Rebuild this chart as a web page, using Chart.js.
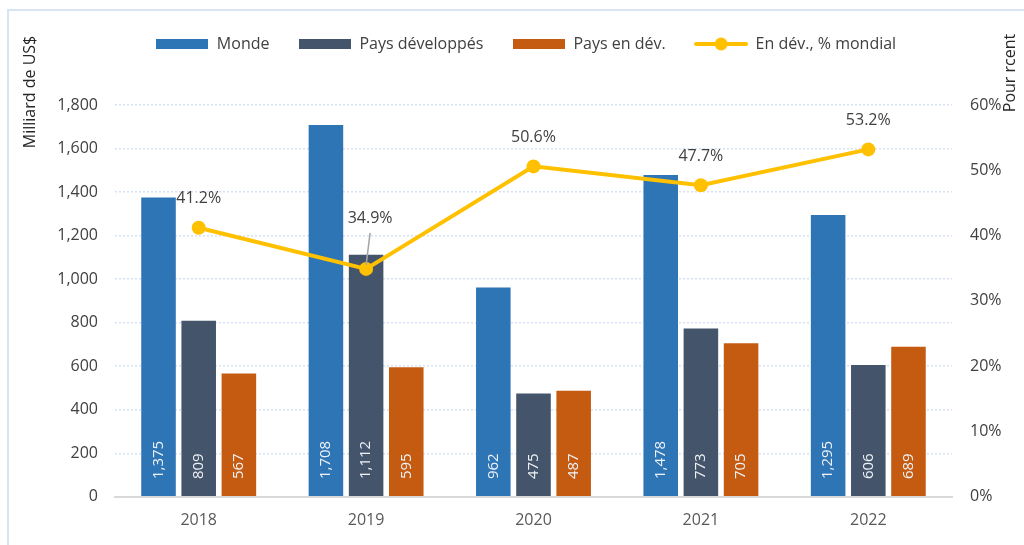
<!DOCTYPE html>
<html>
<head>
<meta charset="utf-8">
<script src="https://cdn.jsdelivr.net/npm/chart.js@4.4.0/dist/chart.umd.min.js"></script>
<style>
  html, body { margin: 0; padding: 0; background: #ffffff; }
  #wrap { width: 1024px; height: 545px; }
</style>
</head>
<body>
<div id="wrap"><canvas id="c" width="1024" height="545"></canvas></div>
<script>
// ---- data ----
const categories = ['2018', '2019', '2020', '2021', '2022'];
const monde = [1375, 1708, 962, 1478, 1295];
const developpes = [809, 1112, 475, 773, 606];
const enDev = [567, 595, 487, 705, 689];
const partMondiale = [41.2, 34.9, 50.6, 47.7, 53.2];
const leftTicks = [0, 1800, 200];   // min, max, step
const rightTicks = [0, 60, 10];     // min, max, step (percent)
const seriesNames = ['Monde', 'Pays développés', 'Pays en dév.', 'En dév., % mondial'];
const leftTitle = 'Milliard de US$';
const rightTitle = 'Pour rcent';

// ---- styles ----
const FONT = '"Open Sans", "Noto Sans", sans-serif';
const colors = ['#2E75B6', '#44546A', '#C55A11', '#FFC000'];

function boxIcon(color) {
  const c = document.createElement('canvas');
  c.width = 52; c.height = 10;
  const g = c.getContext('2d');
  g.fillStyle = color; g.fillRect(0, 0, 52, 10);
  return c;
}
function lineIcon(color) {
  const c = document.createElement('canvas');
  c.width = 54; c.height = 14;
  const g = c.getContext('2d');
  g.strokeStyle = color; g.lineWidth = 4; g.lineCap = 'round';
  g.beginPath(); g.moveTo(2, 7); g.lineTo(52, 7); g.stroke();
  g.fillStyle = color; g.beginPath(); g.arc(27, 7, 6.5, 0, Math.PI * 2); g.fill();
  return c;
}
const legendIcons = [boxIcon(colors[0]), boxIcon(colors[1]), boxIcon(colors[2]), lineIcon(colors[3])];

const fmt = v => v.toLocaleString('en-US');

const decorPlugin = {
  id: 'decor',
  beforeDraw(chart) {
    const ctx = chart.ctx;
    ctx.save();
    ctx.fillStyle = '#ffffff';
    ctx.fillRect(0, 0, chart.width, chart.height);
    ctx.strokeStyle = '#DAE3F3';
    ctx.lineWidth = 2;
    ctx.strokeRect(8, 10, chart.width + 20, chart.height + 20);
    ctx.restore();
  },
  afterDatasetsDraw(chart) {
    const ctx = chart.ctx;
    ctx.save();
    // bar value labels
    for (let d = 0; d < 3; d++) {
      const meta = chart.getDatasetMeta(d);
      const vals = chart.data.datasets[d].data;
      meta.data.forEach((el, i) => {
        ctx.save();
        ctx.translate(el.x, el.base - 17);
        ctx.rotate(-Math.PI / 2);
        ctx.font = '15px ' + FONT;
        ctx.fillStyle = '#EEF2F7';
        ctx.textAlign = 'left';
        ctx.textBaseline = 'middle';
        ctx.fillText(fmt(vals[i]), 0, 0);
        ctx.restore();
      });
    }
    // line labels
    const lmeta = chart.getDatasetMeta(3);
    const lv = chart.data.datasets[3].data;
    lmeta.data.forEach((pt, i) => {
      let dx = 0, dy = 29;
      if (i === 1) {
        dx = 4; dy = 50;
        ctx.strokeStyle = '#A6A6A6';
        ctx.lineWidth = 1.5;
        ctx.beginPath();
        ctx.moveTo(pt.x + dx, pt.y - dy + 14);
        ctx.lineTo(pt.x, pt.y - 4);
        ctx.stroke();
      }
      ctx.font = '16px ' + FONT;
      ctx.fillStyle = '#404040';
      ctx.textAlign = 'center';
      ctx.textBaseline = 'middle';
      ctx.fillText(lv[i].toFixed(1) + '%', pt.x + dx, pt.y - dy);
    });
    ctx.restore();
  },
  afterDraw(chart) {
    const ctx = chart.ctx;
    ctx.save();
    ctx.font = '16px ' + FONT;
    ctx.fillStyle = '#262626';
    ctx.textAlign = 'center';
    ctx.textBaseline = 'middle';
    ctx.translate(30, 92);
    ctx.rotate(-Math.PI / 2);
    ctx.fillText(leftTitle, 0, 0);
    ctx.restore();
    ctx.save();
    ctx.font = '16px ' + FONT;
    ctx.fillStyle = '#262626';
    ctx.textAlign = 'center';
    ctx.textBaseline = 'middle';
    ctx.translate(1010, 73);
    ctx.rotate(-Math.PI / 2);
    ctx.fillText(rightTitle, 0, 0);
    ctx.restore();
  }
};

const barCommon = { categoryPercentage: 0.72, barPercentage: 0.86, borderWidth: 0, yAxisID: 'y' };

new Chart(document.getElementById('c'), {
  type: 'bar',
  data: {
    labels: categories,
    datasets: [
      Object.assign({ label: seriesNames[0], data: monde, backgroundColor: colors[0] }, barCommon),
      Object.assign({ label: seriesNames[1], data: developpes, backgroundColor: colors[1] }, barCommon),
      Object.assign({ label: seriesNames[2], data: enDev, backgroundColor: colors[2] }, barCommon),
      {
        type: 'line', label: seriesNames[3], data: partMondiale, yAxisID: 'y1', order: -1,
        borderColor: colors[3], backgroundColor: colors[3], borderWidth: 4,
        pointRadius: 7, pointHoverRadius: 7, pointBackgroundColor: colors[3], pointBorderWidth: 0,
        tension: 0
      }
    ]
  },
  options: {
    responsive: false,
    animation: false,
    devicePixelRatio: 1,
    layout: { padding: { top: 7, left: 28, right: 0, bottom: 1 } },
    plugins: {
      legend: {
        position: 'top',
        labels: {
          sort: (a, b) => a.datasetIndex - b.datasetIndex,
          usePointStyle: true,
          pointStyleWidth: 53,
          padding: 29,
          color: '#404040',
          font: { family: FONT, size: 16 },
          generateLabels(chart) {
            const items = Chart.defaults.plugins.legend.labels.generateLabels(chart);
            items.forEach(it => { it.pointStyle = legendIcons[it.datasetIndex]; });
            return items;
          }
        }
      },
      subtitle: {
        display: true, text: '', position: 'top', weight: 500,
        font: { size: 10, lineHeight: 1 }, padding: { top: 33, bottom: 0 }
      },
      tooltip: { enabled: false }
    },
    scales: {
      x: {
        grid: { display: false, drawTicks: false },
        border: { display: true, color: '#D9D9D9', width: 2 },
        ticks: { color: '#595959', font: { family: FONT, size: 16 }, padding: 14 }
      },
      y: {
        position: 'left',
        min: leftTicks[0], max: leftTicks[1],
        afterFit(s) { s.width = 87; },
        grid: { color: '#D6E2F3', lineWidth: 1.5, drawTicks: false },
        border: { display: false, dash: [2, 2] },
        ticks: { stepSize: leftTicks[2], color: '#404040', font: { family: FONT, size: 16 }, padding: 17,
                 callback: v => fmt(v) }
      },
      y1: {
        position: 'right',
        min: rightTicks[0], max: rightTicks[1],
        afterFit(s) { s.width = 72; },
        grid: { display: false, drawTicks: false },
        border: { display: false },
        ticks: { stepSize: rightTicks[2], color: '#404040', font: { family: FONT, size: 16 }, padding: 18,
                 callback: v => v + '%' }
      }
    }
  },
  plugins: [decorPlugin]
});
</script>
</body>
</html>
